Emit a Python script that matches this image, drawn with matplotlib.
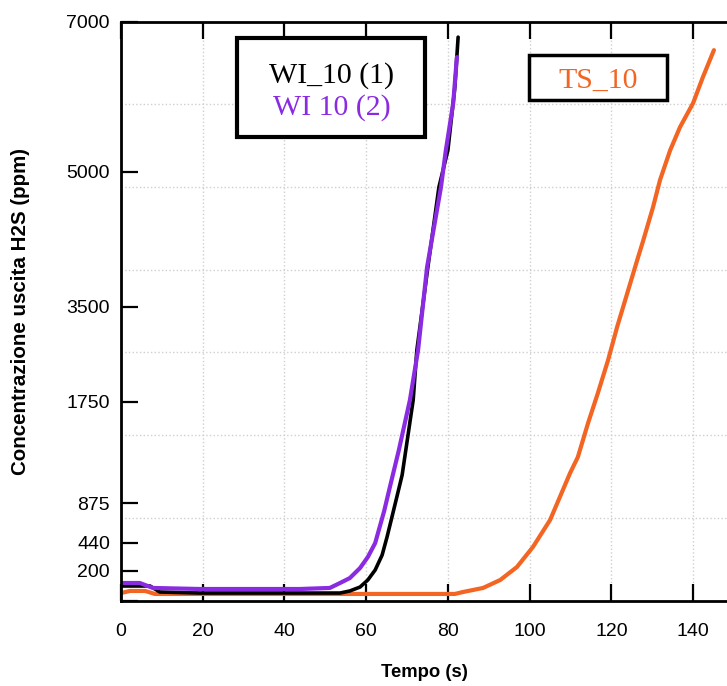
import numpy as np
import matplotlib
matplotlib.use('Agg')
import matplotlib.pyplot as plt
from matplotlib.patches import Rectangle
from matplotlib.ticker import FixedLocator

# dati (tempo in s, concentrazione in ppm)
t_wi1 = [0, 7.1, 9.5, 19.3, 43.8, 53.6, 56.0, 58.5, 60.4, 62.2, 63.9, 65.1, 66.3,
         67.5, 68.8, 69.7, 71.5, 72.4, 75.1, 77.8, 80.0, 81.7, 82.5]
c_wi1 = [98, 98, 58, 51, 51, 51, 65, 91, 138, 206, 334, 502, 721,
         927, 1117, 1333, 1781, 2702, 3941, 4830, 5289, 6127, 6792]

t_wi2 = [0, 4.6, 7.8, 19.3, 31.6, 43.8, 51.1, 53.6, 56.0, 58.5, 60.4, 62.2, 64.4,
         65.8, 68.0, 70.7, 72.7, 74.9, 78.3, 79.5, 81.3, 82.2]
c_wi2 = [118, 118, 85, 78, 78, 78, 85, 118, 151, 223, 317, 437, 787,
         1013, 1333, 1781, 2702, 3941, 4830, 5289, 5914, 6526]

t_ts = [0, 2.2, 5.9, 8.3, 19.3, 50, 81.7, 83.7, 88.6, 92.8, 96.9, 100.8, 105.0,
        107.4, 109.9, 111.8, 114.3, 116.7, 119.2, 121.4, 123.9, 126.3, 127.8,
        130.2, 131.9, 134.4, 136.8, 140.0, 142.4, 145.1]
c_ts = [51, 65, 65, 45, 45, 45, 45, 58, 85, 138, 232, 403, 689,
        927, 1134, 1272, 1566, 1910, 2518, 3126, 3652, 4015, 4237,
        4608, 4908, 5289, 5595, 5914, 6260, 6619]

xticks = [0, 20, 40, 60, 80, 100, 120, 140]
yticks = [0, 200, 440, 875, 1750, 3500, 5000, 7000]
ytick_labels = ['', '200', '440', '875', '1750', '3500', '5000', '7000']

# scala y non lineare (posizione relativa di ogni etichetta)
ypos = [0, 0.0518, 0.1001, 0.1686, 0.3435, 0.5074, 0.7404, 1.0]

def fwd(y):
    return np.interp(y, yticks, ypos)

def inv(p):
    return np.interp(p, ypos, yticks)

viola = '#8A2BE2'
arancio = '#F26522'

fig = plt.figure(figsize=(7.27, 6.86), dpi=100)
ax = fig.add_axes([121 / 727, 1 - 600.7 / 686, 606 / 727, 579.2 / 686])
ax.set_yscale('function', functions=(fwd, inv))

ax.plot(t_ts, c_ts, color=arancio, lw=3, solid_capstyle='round', solid_joinstyle='round')
ax.plot(t_wi1, c_wi1, color='black', lw=2.6, solid_capstyle='round', solid_joinstyle='round')
ax.plot(t_wi2, c_wi2, color=viola, lw=3, solid_capstyle='round', solid_joinstyle='round')

ax.set_xlim(0, 148.3)
ax.set_ylim(0, 7000)

ax.xaxis.set_major_locator(FixedLocator(xticks))
ax.yaxis.set_major_locator(FixedLocator(yticks))
ax.set_yticklabels(ytick_labels)
# griglia: 7 intervalli uguali
ax.yaxis.set_minor_locator(FixedLocator(inv(np.arange(1, 7) / 7)))
ax.xaxis.set_minor_locator(FixedLocator([]))

ax.grid(True, axis='x', which='major', color='#cfcfcf', ls=':', lw=1)
ax.grid(True, axis='y', which='minor', color='#cfcfcf', ls=':', lw=1)
ax.set_axisbelow(True)

for s in ['left', 'bottom', 'top']:
    ax.spines[s].set_linewidth(2)
ax.spines['right'].set_visible(False)

ax.tick_params(axis='x', which='major', direction='in', length=12, width=1.6,
               top=True, pad=16, labelsize=14)
ax.tick_params(axis='y', which='major', direction='in', length=12, width=1.6,
               right=False, pad=8, labelsize=14)
ax.tick_params(axis='y', which='minor', length=0)
for lab in ax.get_xticklabels() + ax.get_yticklabels():
    lab.set_family('Liberation Sans')

ax.set_xlabel('Tempo (s)', fontsize=13.3, fontweight='bold', family='Liberation Sans')
ax.xaxis.set_label_coords(0.5, -0.110)
ax.set_ylabel('Concentrazione uscita H2S (ppm)', fontsize=14.8, fontweight='bold',
              family='Liberation Sans')
ax.yaxis.set_label_coords(-0.150, 0.5)

# riquadri legenda
ax.add_patch(Rectangle((0.1914, 0.8006), 0.3103, 0.1709, transform=ax.transAxes,
                       fill=True, facecolor='white', edgecolor='black', lw=3, zorder=5))
ax.add_patch(Rectangle((0.6733, 0.8645), 0.2277, 0.0777, transform=ax.transAxes,
                       fill=True, facecolor='white', edgecolor='black', lw=2.5, zorder=5))
ax.text(0.3482, 0.8939, 'WI_10 (1)', transform=ax.transAxes, ha='center', va='baseline',
        fontsize=21.5, family='Liberation Serif', color='black', zorder=6)
ax.text(0.3482, 0.8386, 'WI 10 (2)', transform=ax.transAxes, ha='center', va='baseline',
        fontsize=21.5, family='Liberation Serif', color=viola, zorder=6)
ax.text(0.7871, 0.8852, 'TS_10', transform=ax.transAxes, ha='center', va='baseline',
        fontsize=21.5, family='Liberation Serif', color=arancio, zorder=6)

fig.savefig('out.png', dpi=100)
